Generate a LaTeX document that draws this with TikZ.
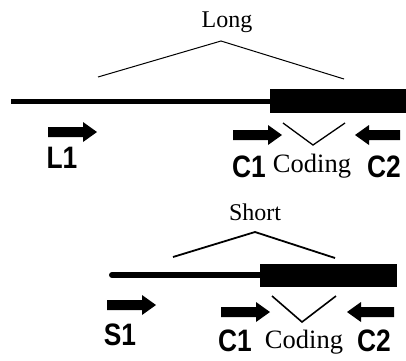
\documentclass[tikz,border=0pt]{standalone}
\usepackage{fontspec}
\usepackage{graphicx}
\setmainfont{Liberation Serif}
\newfontfamily\lblfont{Liberation Sans}
\newcommand\rblock[3]{\fill ({#1},{#3-5}) -- ({#2-14},{#3-5}) -- ({#2-14},{#3-10}) -- ({#2},{#3}) -- ({#2-14},{#3+10}) -- ({#2-14},{#3+5}) -- ({#1},{#3+5}) -- cycle;}
\newcommand\lblock[3]{\fill ({#1},{#3-5}) -- ({#2+14},{#3-5}) -- ({#2+14},{#3-10}) -- ({#2},{#3}) -- ({#2+14},{#3+10}) -- ({#2+14},{#3+5}) -- ({#1},{#3+5}) -- cycle;}
\newcommand\prm[1]{\scalebox{0.85}[1]{#1}}
\begin{document}
\begin{tikzpicture}[x=1pt,y=-1pt,
  primer/.style={font=\lblfont\bfseries\fontsize{31}{31}\selectfont, inner sep=0, anchor=base},
  title/.style={font=\fontsize{24}{24}\selectfont, inner sep=0, anchor=base},
  coding/.style={font=\fontsize{26.5}{26.5}\selectfont, inner sep=0, anchor=base},
  chev/.style={line width=1pt}]
\useasboundingbox (0,0) rectangle (406,360);
% ---- Long ----
\node[title] (long) at (227,27) {Long};
\draw[chev] (98,77) -- (221,41) -- (344,79);
\draw[line width=5pt] (11,101) -- (270,101);
\fill (270,89) rectangle (406,113);
\rblock{48}{97}{132}
\rblock{233}{282}{135}
\lblock{400}{355}{135}
\draw[line width=1.3pt] (283,123) -- (313,145) -- (345,123);
\node[primer] (L1) at (62,168) {\prm{L1}};
\node[primer] (C1a) at (249,177) {\prm{C1}};
\node[coding] (coda) at (312,172) {Coding};
\node[primer] (C2a) at (384,177) {\prm{C2}};
% ---- Short ----
\node[title] (short) at (255,220) {Short};
\draw[line width=1.8pt] (173,257) -- (255,232) -- (335,258);
\draw[line width=6pt, line cap=round] (112,275) -- (260,275);
\fill (260,264) rectangle (397,287);
\rblock{107}{156}{305}
\rblock{221}{270}{312}
\lblock{394}{347}{312}
\draw[line width=1.6pt] (272,296) -- (302,322) -- (336,296);
\node[primer] (S1) at (120,345) {\prm{S1}};
\node[primer] (C1b) at (235,351) {\prm{C1}};
\node[coding] (codb) at (304,348) {Coding};
\node[primer] (C2b) at (374,351) {\prm{C2}};
\end{tikzpicture}
\end{document}
